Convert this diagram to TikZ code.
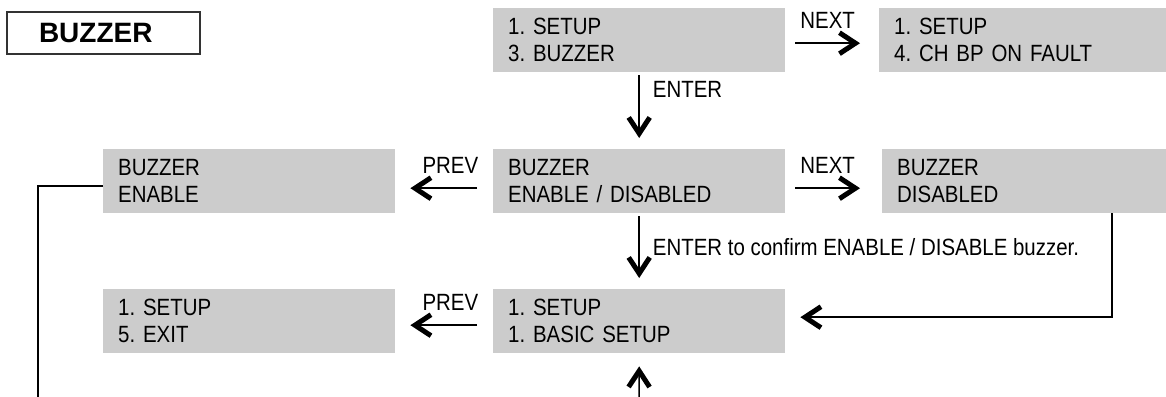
\documentclass[tikz,border=0pt]{standalone}
\usepackage{fontspec}
\setmainfont{Liberation Sans}
\newfontfamily\narrowfont{Liberation Sans}[FakeStretch=0.87]
\usepackage{xcolor}
\usetikzlibrary{arrows.meta}
\definecolor{screengray}{RGB}{204,204,204}
\frenchspacing

\begin{document}
\begin{tikzpicture}[x=1pt,y=-1pt,
		screen/.style={fill=screengray, anchor=north west, minimum height=64pt, text width=262pt, inner xsep=15pt, align=left, font=\narrowfont\fontsize{23.5pt}{27pt}\selectfont},
		nav/.style={line width=1.5pt, -{Straight Barb[length=16pt,width=21pt,line width=5pt]}},
		wire/.style={line width=1.5pt},
		keylabel/.style={font=\narrowfont\fontsize{23.5pt}{24pt}\selectfont, inner sep=2pt}]
		\useasboundingbox (0,0) rectangle (1166,396);
		\node[draw=black!80, line width=1.3pt, minimum width=193pt, minimum height=42pt, text width=129pt, inner xsep=32pt, align=left, font=\bfseries\fontsize{28pt}{28pt}\selectfont] (title) at (103.5,33) {BUZZER};
		\node[screen] (sb) at (493,8) {1. SETUP\\3. BUZZER};
		\node[screen] (sf) at (879,8) {1. SETUP\\4. CH BP ON FAULT};
		\node[screen] (be) at (103,149) {BUZZER\\ENABLE};
		\node[screen] (bz) at (493,149) {BUZZER\\ENABLE / DISABLED};
		\node[screen] (bd) at (882,149) {BUZZER\\DISABLED};
		\node[screen] (ex) at (103,289) {1. SETUP\\5. EXIT};
		\node[screen] (bs) at (493,289) {1. SETUP\\1. BASIC SETUP};
		\coordinate (enabledrop) at (38,398);
		\coordinate (basicfeed) at (639,398);
		\draw[nav] ([xshift=10pt,yshift=-3pt]sb.east) -- node[keylabel, midway, above=12pt] {NEXT} ([xshift=-19pt,yshift=-3pt]sf.west);
		\draw[nav] ([yshift=-3pt]sb.south) -- node[keylabel, pos=0.22, right=11pt] {ENTER} ([yshift=11pt]bz.north);
		\draw[nav] ([xshift=-16pt,yshift=-7pt]bz.west) -- node[keylabel, pos=0.4, above=12pt] {PREV} ([xshift=15pt,yshift=-7pt]be.east);
		\draw[nav] ([xshift=10pt,yshift=-7pt]bz.east) -- node[keylabel, midway, above=12pt] {NEXT} ([xshift=-22pt,yshift=-7pt]bd.west);
		\draw[nav] ([yshift=-3pt]bz.south) -- node[keylabel, midway, right=11pt] {ENTER to confirm ENABLE / DISABLE buzzer.} ([yshift=11pt]bs.north);
		\draw[nav] ([xshift=-16pt,yshift=-4pt]bs.west) -- node[keylabel, pos=0.4, above=12pt] {PREV} ([xshift=15pt,yshift=-4pt]ex.east);
		\draw[nav] ([xshift=230pt]bd.south west) |- ([xshift=15pt,yshift=4pt]bs.east);
		\draw[nav] (basicfeed) -- ([yshift=-13pt]bs.south);
		\draw[wire] ([yshift=-5pt]be.west) -| (enabledrop);
	\end{tikzpicture}
\end{document}
